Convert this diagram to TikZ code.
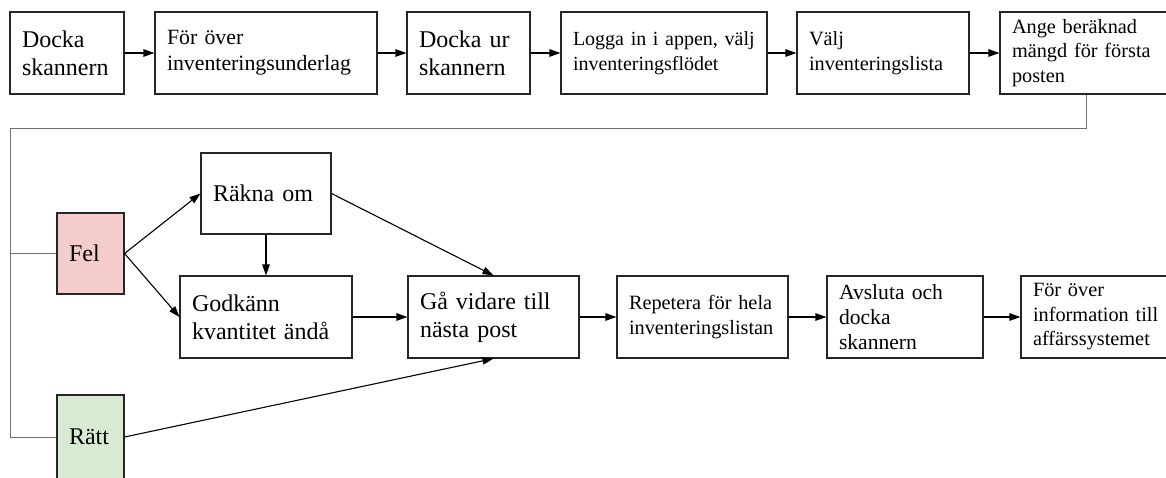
\documentclass[tikz,border=0pt]{standalone}
\usepackage{fontspec}
\setmainfont{Liberation Serif}
\usetikzlibrary{arrows.meta}
\definecolor{felfill}{HTML}{F4CCCC}
\definecolor{rattfill}{HTML}{D9EAD3}
\definecolor{boxline}{HTML}{262626}
\definecolor{fbline}{HTML}{707070}
\tikzset{
  stepbox/.style={draw=boxline, line width=1.1pt, fill=white, rectangle,
    inner xsep=12pt, inner ysep=0pt, align=left, anchor=center},
  bigf/.style={font=\fontsize{24}{28}\selectfont},
  medf/.style={font=\fontsize{21.8}{26}\selectfont},
  smallf/.style={font=\fontsize{20.3}{24.5}\selectfont},
  flow/.style={draw=black, line width=1.1pt, -{Triangle[length=11pt,width=7.5pt]}},
  fb/.style={draw=fbline, line width=1pt},
}
\newcommand{\bx}[7]{% name, cx, cy, w, h, style, text
  \node[stepbox,#6,minimum width=#4pt,minimum height=#5pt,text width=#4pt-24pt] (#1) at (#2,#3) {#7};}
\begin{document}
\begin{tikzpicture}[x=1pt,y=-1pt]
\useasboundingbox (0,0) rectangle (1166,477);
\clip (0,0) rectangle (1166,477);
% top row
\bx{b1}{67}{53}{114}{82}{bigf}{Docka\\skannern}
\bx{b2}{266}{53}{222}{82}{medf}{För över\\inventeringsunderlag}
\bx{b3}{468.5}{53}{123}{82}{bigf}{Docka ur\\skannern}
\bx{b4}{664}{53}{206}{82}{font=\fontsize{20}{24.5}\selectfont}{Logga in i appen, välj\\inventeringsflödet}
\bx{b5}{883}{53}{172}{82}{smallf}{Välj\\inventeringslista}
\bx{b6}{1086}{53}{172}{82}{smallf}{Ange beräknad\\mängd för första\\posten}
% lower part
\bx{rakna}{266}{193.5}{130}{81}{bigf}{Räkna om}
\bx{godk}{266}{317}{172}{82}{bigf}{Godkänn\\kvantitet ändå}
\bx{gav}{493.5}{317}{171}{82}{bigf}{Gå vidare till\\nästa post}
\bx{rep}{702.5}{317}{171}{82}{smallf}{Repetera för hela\\inventeringslistan}
\bx{avs}{905}{317}{156}{82}{font=\fontsize{21.6}{25}\selectfont}{Avsluta och\\docka\\skannern}
\bx{info}{1107}{317}{172}{82}{smallf}{För över\\information till\\affärssystemet}
\bx{fel}{90.5}{253.5}{67}{81}{bigf,fill=felfill}{Fel}
\bx{ratt}{90.5}{437}{67}{84}{bigf,fill=rattfill}{Rätt}
% feedback line
\coordinate (fbc) at (10,128);
\draw[fb] (b6.south) |- (fbc) |- (fel.west);
\draw[fb] (fbc) |- (ratt.west);
% top row arrows
\draw[flow] (b1) -- (b2);
\draw[flow] (b2) -- (b3);
\draw[flow] (b3) -- (b4);
\draw[flow] (b4) -- (b5);
\draw[flow] (b5) -- (b6);
% lower arrows
\draw[flow] (fel.east) -- (rakna.west);
\draw[flow] (fel.east) -- (godk.west);
\draw[flow] (rakna.south) -- (godk.north);
\draw[flow] (rakna.east) -- (gav.north);
\draw[flow] (godk.east) -- (gav.west);
\draw[flow] (ratt.east) -- (gav.south);
\draw[flow] (gav) -- (rep);
\draw[flow] (rep) -- (avs);
\draw[flow] (avs) -- (info);
\end{tikzpicture}
\end{document}
